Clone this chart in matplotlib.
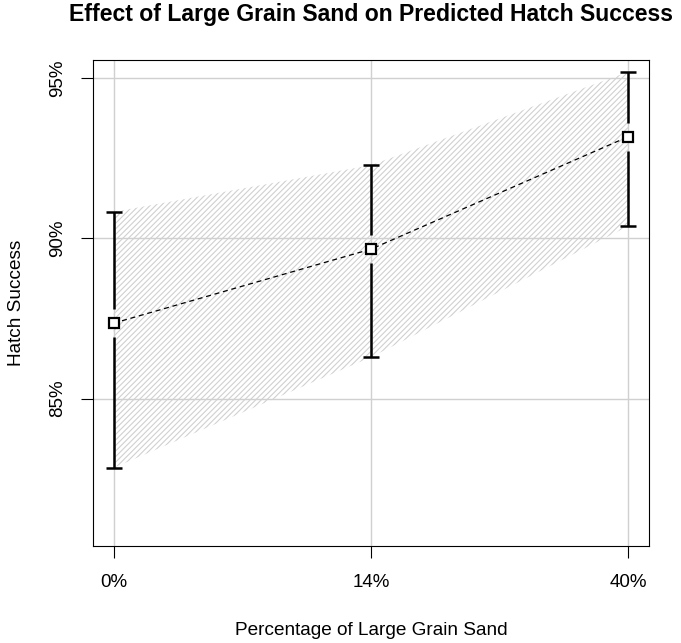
import matplotlib
matplotlib.use("Agg")
import matplotlib.pyplot as plt
import numpy as np

plt.rcParams['font.family'] = ['Liberation Sans', 'DejaVu Sans']
plt.rcParams['hatch.linewidth'] = 0.8

categories = ["0%", "14%", "40%"]
predicted = [87.35, 89.66, 93.17]
lower = [82.84, 86.29, 90.38]
upper = [90.82, 92.28, 95.19]
yticks = [85, 90, 95]
ytick_labels = ["85%", "90%", "95%"]

W, H = 681, 643
fig = plt.figure(figsize=(W / 100, H / 100), dpi=100)
ax = fig.add_axes([93 / W, (H - 546) / H, (649 - 93) / W, (546 - 60) / H])

x = np.arange(1, len(categories) + 1)
ax.set_xlim(0.92, 3.08)
ax.set_ylim(80.4, 95.56)

# grid
for xv in x:
    ax.axvline(xv, color='#d0d0d0', lw=1.0, zorder=1)
for yv in yticks:
    ax.axhline(yv, color='#d0d0d0', lw=1.0, zorder=1)

# hatched confidence band
poly_x = np.concatenate([x, x[::-1]])
poly_y = np.concatenate([upper, lower[::-1]])
ax.fill(poly_x, poly_y, facecolor='none', edgecolor='#d0d0d0', linewidth=0,
        hatch='//////', zorder=2)

# dashed line
ax.plot(x, predicted, color='black', lw=0.9, ls=(0, (4, 3)), zorder=3)

# error bars with gap around point
fig.canvas.draw()
gap_px = 14
for xi, p, lo, hi in zip(x, predicted, lower, upper):
    px, py = ax.transData.transform((xi, p))
    _, p_hi = ax.transData.inverted().transform((px, py + gap_px))
    _, p_lo = ax.transData.inverted().transform((px, py - gap_px))
    ax.plot([xi, xi], [p_hi, hi], color='black', lw=1.8, solid_capstyle='butt', zorder=4)
    ax.plot([xi, xi], [lo, p_lo], color='black', lw=1.8, solid_capstyle='butt', zorder=4)
    ax.plot([xi], [hi], marker='_', ms=12, mew=1.8, color='black', zorder=4)
    ax.plot([xi], [lo], marker='_', ms=12, mew=1.8, color='black', zorder=4)

ax.plot(x, predicted, ls='none', marker='s', ms=6.5, mfc='white', mec='black',
        mew=1.6, zorder=5)

ax.set_xticks(x)
ax.set_xticklabels(categories)
ax.set_yticks(yticks)
ax.set_yticklabels(ytick_labels, rotation=90, va='center')
ax.tick_params(axis='both', direction='out', length=8.5, width=0.8,
               labelsize=13.5, colors='black')
ax.tick_params(axis='x', pad=12)
ax.tick_params(axis='y', pad=11)
for s in ax.spines.values():
    s.set_linewidth(0.8)
    s.set_color('black')

ax.set_xlabel("Percentage of Large Grain Sand", fontsize=13.7, labelpad=22)
ax.set_ylabel("Hatch Success", fontsize=13.7, labelpad=17)
ax.set_title("Effect of Large Grain Sand on Predicted Hatch Success",
             fontsize=16.6, fontweight='bold', pad=28)

fig.savefig("out.png", dpi=100)
